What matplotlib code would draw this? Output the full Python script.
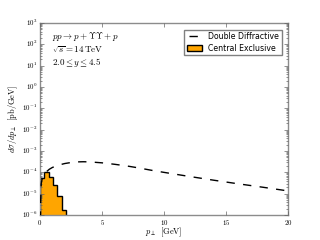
import matplotlib
matplotlib.use('Agg')
import matplotlib.pyplot as plt
from matplotlib.patches import Patch

plt.style.use('classic')
plt.rcParams['mathtext.fontset'] = 'cm'

# double diffractive curve, p_perp in GeV, dsigma/dp in pb/GeV
dd_pt = [0.02, 0.05, 0.1, 0.2, 0.3, 0.5, 0.75, 1.0, 1.5, 2.0, 2.5, 3.0, 3.5, 4.0,
         5.0, 6.0, 7.0, 8.0, 9.0, 10.0, 12.0, 14.0, 16.0, 18.0, 20.0]
dd_val = [1e-7, 4e-6, 3e-5, 6e-5, 8e-5, 1.05e-4, 1.4e-4, 1.7e-4, 2.2e-4, 2.6e-4, 2.9e-4,
          3.1e-4, 3.15e-4, 3.1e-4, 2.8e-4, 2.4e-4, 2.0e-4, 1.6e-4, 1.25e-4, 1.0e-4,
          6.5e-5, 4.3e-5, 2.9e-5, 2.0e-5, 1.35e-5]

# central exclusive histogram
ce_edges = [0.0, 0.35, 0.7, 1.05, 1.4, 1.75, 2.1]
ce_val = [5.2e-5, 1.0e-4, 6.2e-5, 2.5e-5, 7.8e-6, 1.7e-6]

fig = plt.figure(figsize=(3.2, 2.4), dpi=100)
ax = fig.add_axes([0.125, 0.104, 0.775, 0.8])

ax.stairs(ce_val, ce_edges, baseline=1e-6, fill=True, facecolor='orange',
          edgecolor='none', zorder=1)
ax.stairs(ce_val, ce_edges, baseline=1e-6, fill=False, color='k', lw=1.0, zorder=2)
ax.plot(dd_pt, dd_val, 'k--', lw=1.0, zorder=3)

ax.set_yscale('log')
ax.set_xlim(0, 20)
ax.set_ylim(1e-6, 1e3)
ax.set_xticks([0, 5, 10, 15, 20])
ax.set_xticklabels(['$0$', '$5$', '$10$', '$15$', '$20$'])
ax.set_yticks([10.0**k for k in range(-6, 4)])
ax.set_yticklabels(['$10^{%d}$' % k for k in range(-6, 4)])
ax.tick_params(labelsize=5, direction='in', length=3, pad=2, color='0.4')
ax.tick_params(which='minor', length=1.5, color='0.4')
for s in ax.spines.values():
    s.set_color('0.55')

ax.set_xlabel(r'$p_\perp\;\;[\mathrm{GeV}]$', fontsize=6, labelpad=-1)
ax.set_ylabel(r'$d\sigma/dp_\perp\;\;[\mathrm{pb/GeV}]$', fontsize=6, labelpad=1)

ax.text(0.047, 0.932, r'$pp\rightarrow p+\Upsilon\Upsilon+p$', transform=ax.transAxes,
        fontsize=6.5, va='center')
ax.text(0.047, 0.862, r'$\sqrt{s}=14\,\mathrm{TeV}$', transform=ax.transAxes,
        fontsize=6.5, va='center')
ax.text(0.047, 0.792, r'$2.0\leq y\leq4.5$', transform=ax.transAxes,
        fontsize=6.5, va='center')

handles = [plt.Line2D([], [], color='k', ls='--', lw=1.0),
           Patch(facecolor='orange', edgecolor='k')]
labels = ['Double Diffractive', 'Central Exclusive']
leg = ax.legend(handles, labels, loc='upper right', fontsize=5.6, handlelength=2.0,
                borderpad=0.3, labelspacing=0.35, fancybox=False,
                bbox_to_anchor=(0.99, 0.985))
leg.get_frame().set_edgecolor('0.5')

fig.savefig('out.png', dpi=100)
